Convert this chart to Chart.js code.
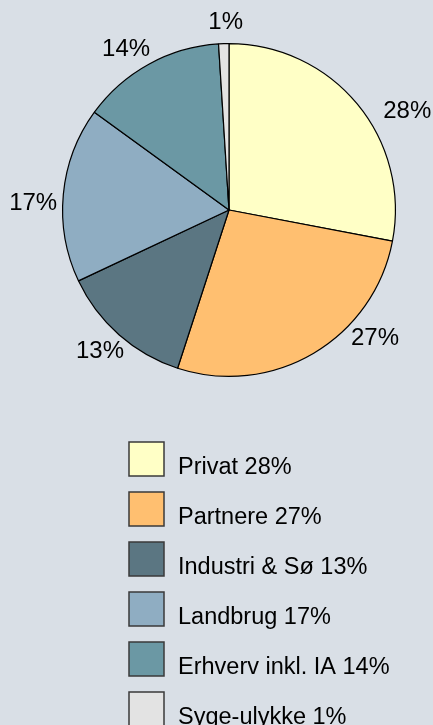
<!DOCTYPE html>
<html>
<head>
<meta charset="utf-8">
<script src="https://cdn.jsdelivr.net/npm/chart.js@4/dist/chart.umd.min.js"></script>
<style>
  html, body { margin: 0; padding: 0; background: #d9dfe6; overflow: hidden; }
  canvas { display: block; }
</style>
</head>
<body>
<canvas id="c" width="433" height="725"></canvas>
<script>
// ---- data ----
const categories = ["Privat", "Partnere", "Industri & Sø", "Landbrug", "Erhverv inkl. IA", "Syge-ulykke"];
const values = [28, 27, 13, 17, 14, 1];
const sliceColors = ["#ffffc6", "#ffbf70", "#5b7682", "#8fadc2", "#6b98a4", "#e3e3e3"];

// label placement tweaks (degrees nudge from slice middle, distance from center)
const labelNudgeDeg = [10.5, -18.2, 1.1, -3.1, -3.6, 0.8];
const labelDist = [204, 194, 191, 196, 192, 189];

const FONT = '"Liberation Sans", Arial, sans-serif';

const pctLabels = {
  id: 'pctLabels',
  afterDatasetsDraw(chart) {
    const ctx = chart.ctx;
    const meta = chart.getDatasetMeta(0);
    ctx.save();
    ctx.font = '24px ' + FONT;
    ctx.fillStyle = '#000';
    ctx.textAlign = 'center';
    ctx.textBaseline = 'middle';
    meta.data.forEach((arc, i) => {
      const p = arc.getProps(['x', 'y', 'startAngle', 'endAngle'], true);
      const a = (p.startAngle + p.endAngle) / 2 + labelNudgeDeg[i] * Math.PI / 180;
      const r = labelDist[i];
      ctx.fillText(values[i] + '%', p.x + r * Math.cos(a), p.y + r * Math.sin(a) + 1);
    });
    ctx.restore();
  }
};

const boxLegend = {
  id: 'boxLegend',
  afterDraw(chart) {
    const ctx = chart.ctx;
    ctx.save();
    ctx.font = '23.5px ' + FONT;
    ctx.textAlign = 'left';
    ctx.textBaseline = 'alphabetic';
    categories.forEach((c, i) => {
      const top = 442 + i * 50;
      ctx.fillStyle = sliceColors[i];
      ctx.fillRect(129, top, 35, 34);
      ctx.strokeStyle = '#3a3a3a';
      ctx.lineWidth = 1.5;
      ctx.strokeRect(129, top, 35, 34);
      ctx.fillStyle = '#000';
      ctx.fillText(c + ' ' + values[i] + '%', 178, top + 32);
    });
    ctx.restore();
  }
};

new Chart(document.getElementById('c'), {
  type: 'pie',
  data: {
    labels: categories,
    datasets: [{
      data: values,
      backgroundColor: sliceColors,
      borderColor: '#000',
      borderWidth: 1.2
    }]
  },
  options: {
    responsive: false,
    animation: false,
    layout: { padding: { left: 62, right: 37, top: 43, bottom: 348 } },
    plugins: {
      legend: { display: false },
      tooltip: { enabled: false }
    }
  },
  plugins: [pctLabels, boxLegend]
});
</script>
</body>
</html>
